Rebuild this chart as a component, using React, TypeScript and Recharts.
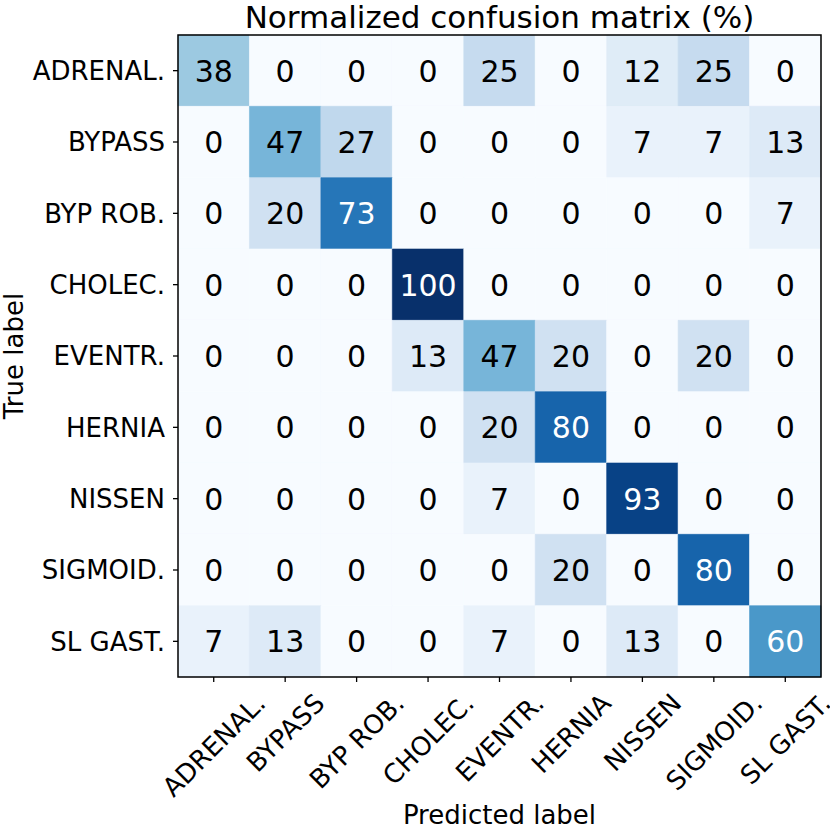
import { ScatterChart, Scatter, XAxis, YAxis, ReferenceArea } from 'recharts';

const LABELS = ['ADRENAL.', 'BYPASS', 'BYP ROB.', 'CHOLEC.', 'EVENTR.', 'HERNIA', 'NISSEN', 'SIGMOID.', 'SL GAST.'];

// rows = true label, cols = predicted label (percent)
const ROW_ADRENAL = [38, 0, 0, 0, 25, 0, 12, 25, 0];
const ROW_BYPASS = [0, 47, 27, 0, 0, 0, 7, 7, 13];
const ROW_BYP_ROB = [0, 20, 73, 0, 0, 0, 0, 0, 7];
const ROW_CHOLEC = [0, 0, 0, 100, 0, 0, 0, 0, 0];
const ROW_EVENTR = [0, 0, 0, 13, 47, 20, 0, 20, 0];
const ROW_HERNIA = [0, 0, 0, 0, 20, 80, 0, 0, 0];
const ROW_NISSEN = [0, 0, 0, 0, 7, 0, 93, 0, 0];
const ROW_SIGMOID = [0, 0, 0, 0, 0, 20, 0, 80, 0];
const ROW_SL_GAST = [7, 13, 0, 0, 7, 0, 13, 0, 60];

const MATRIX = [ROW_ADRENAL, ROW_BYPASS, ROW_BYP_ROB, ROW_CHOLEC, ROW_EVENTR, ROW_HERNIA, ROW_NISSEN, ROW_SIGMOID, ROW_SL_GAST];
const TICKS = LABELS.map((_, i) => i);

// matplotlib "Blues"
const BLUES = ['#f7fbff', '#deebf7', '#c6dbef', '#9ecae1', '#6baed6', '#4292c6', '#2171b5', '#08519c', '#08306b'];
const FONT = 'DejaVu Sans';
const TICK_SIZE = 26;

function hexToRgb(h: string) {
  return [1, 3, 5].map(i => parseInt(h.slice(i, i + 2), 16));
}

function blues(v: number) {
  const t = Math.max(0, Math.min(1, v / 100)) * (BLUES.length - 1);
  const i = Math.min(Math.floor(t), BLUES.length - 2);
  const f = t - i;
  const a = hexToRgb(BLUES[i]);
  const b = hexToRgb(BLUES[i + 1]);
  const c = a.map((x, k) => Math.round(x + (b[k] - x) * f));
  return `rgb(${c[0]},${c[1]},${c[2]})`;
}

let ctx: CanvasRenderingContext2D | null = null;
function textWidth(s: string, size: number) {
  if (!ctx) ctx = document.createElement('canvas').getContext('2d');
  if (!ctx) return s.length * size * 0.65;
  ctx.font = `${size}px "${FONT}"`;
  return ctx.measureText(s).width;
}

const cells = MATRIX.flatMap((row, r) => row.map((v, c) => ({ x: c, y: r, v })));

function XTick(props: any) {
  const { x, y, payload } = props;
  const label = LABELS[payload.value];
  const w = textWidth(label, TICK_SIZE);
  const h = TICK_SIZE * 1.0;
  const cy = y + (w + h) / (2 * Math.SQRT2);
  return (
    <text x={x} y={cy} dy="0.36em" textAnchor="middle" fontSize={TICK_SIZE} fontFamily={FONT} fill="#000"
      transform={`rotate(-45 ${x} ${cy})`}>
      {label}
    </text>
  );
}

function YTick(props: any) {
  const { x, y, payload } = props;
  return (
    <text x={x} y={y} dy="0.36em" textAnchor="end" fontSize={TICK_SIZE} fontFamily={FONT} fill="#000">
      {LABELS[payload.value]}
    </text>
  );
}

function CellText(props: any) {
  const { cx, cy, payload } = props;
  return (
    <text x={cx} y={cy} dy="0.365em" textAnchor="middle" fontSize={30} fontFamily={FONT}
      fill={payload.v > 50 ? '#fff' : '#000'}>
      {payload.v}
    </text>
  );
}

export default function App() {
  return (
    <div style={{ position: 'absolute', left: 0, top: 0, width: 830, height: 829, background: '#fff', fontFamily: FONT }}>
      <div style={{ position: 'absolute', left: 178, top: 2, width: 643, textAlign: 'center', fontSize: 31, lineHeight: '31px', color: '#000', whiteSpace: 'nowrap' }}>
        Normalized confusion matrix (%)
      </div>
      <ScatterChart width={830} height={829} margin={{ top: 35, right: 9, bottom: 0, left: 0 }}>
        <XAxis
          type="number"
          dataKey="x"
          domain={[-0.5, 8.5]}
          ticks={TICKS}
          interval={0}
          height={152}
          axisLine={false}
          tickLine={{ stroke: '#000', strokeWidth: 1.3 }}
          tickSize={5}
          tickMargin={7}
          tick={<XTick />}
          label={(p: any) => {
            const vb = p.viewBox;
            return (
              <text x={vb.x + vb.width / 2} y={vb.y + 147} textAnchor="middle" fontSize={26} fontFamily={FONT} fill="#000">
                Predicted label
              </text>
            );
          }}
        />
        <YAxis
          type="number"
          dataKey="y"
          domain={[-0.5, 8.5]}
          reversed
          ticks={TICKS}
          interval={0}
          width={178}
          axisLine={false}
          tickLine={{ stroke: '#000', strokeWidth: 1.3 }}
          tickSize={5}
          tickMargin={8}
          tick={<YTick />}
          label={(p: any) => {
            const vb = p.viewBox;
            const cx = 14;
            const cy = vb.y + vb.height / 2;
            return (
              <text x={cx} y={cy} dy="0.36em" textAnchor="middle" fontSize={26} fontFamily={FONT} fill="#000"
                transform={`rotate(-90 ${cx} ${cy})`}>
                True label
              </text>
            );
          }}
        />
        {cells.map(c => (
          <ReferenceArea
            key={`${c.x}-${c.y}`}
            x1={c.x - 0.5}
            x2={c.x + 0.5}
            y1={c.y - 0.5}
            y2={c.y + 0.5}
            fill={blues(c.v)}
            fillOpacity={1}
            stroke={blues(c.v)}
            strokeWidth={0.6}
          />
        ))}
        <ReferenceArea x1={-0.5} x2={8.5} y1={-0.5} y2={8.5} fill="none" fillOpacity={0} stroke="#000" strokeWidth={1.5} />
        <Scatter data={cells} isAnimationActive={false} shape={<CellText />} />
      </ScatterChart>
    </div>
  );
}
